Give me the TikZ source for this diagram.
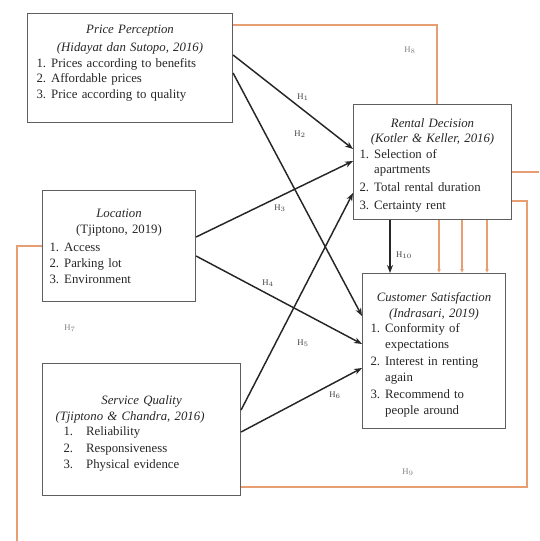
\documentclass[tikz,border=0pt]{standalone}
\usepackage{fontspec}
\setmainfont{Liberation Serif}
\usetikzlibrary{arrows.meta}
\definecolor{linegray}{RGB}{95,95,95}
\definecolor{pathorange}{RGB}{232,158,115}
\newlength\itmw
\setlength\itmw{11pt}
\newcommand{\itm}[2]{\par\noindent\hangindent=\itmw\hangafter=1\makebox[\itmw][l]{#1}#2\par}
\newcommand{\hyp}[1]{H$_{#1}$}

\begin{document}
\begin{tikzpicture}[x=0.75pt,y=-0.75pt]
	\tikzstyle{box}=[rectangle,draw=linegray,line width=0.8pt,anchor=north west,align=left,inner ysep=0pt,font=\fontsize{9.6}{11.6}\selectfont,text=black!85]
	\tikzstyle{hlabel}=[font=\fontsize{6.5}{8}\selectfont,text=black!75]
	\tikzstyle{effect}=[line width=1.1pt,black!85,-{Stealth[length=6pt,width=4.5pt]}]
	\tikzstyle{indirect}=[line width=0.9pt,pathorange]
	\tikzstyle{mediate}=[indirect,-{Latex[length=3pt,width=3pt]}]
	\useasboundingbox (0,0) rectangle (539,541);
	% variables
	\node (price) at (27,13) [box,inner xsep=6.75pt,text width=140.25pt,text height=15pt,text depth=66.75pt] {
		{\centering\textit{Price Perception}\par\vspace{2pt}\textit{(Hidayat dan Sutopo, 2016)}\par}
		\itm{1.}{Prices according to benefits}
		\itm{2.}{Affordable prices}
		\itm{3.}{Price according to quality}
	};
	\node (rental) at (353,104) [box,inner xsep=4.5pt,text width=109.5pt,text height=17pt,text depth=69.25pt] {
		{\centering\textit{Rental Decision}\par\textit{(Kotler \& Keller, 2016)}\par}
		\itm{1.}{Selection of\newline apartments}\vspace{2pt}
		\itm{2.}{Total rental duration}\vspace{1.8pt}
		\itm{3.}{Certainty rent}
	};
	\node (location) at (42,190) [box,inner xsep=5.25pt,text width=104.25pt,text height=20.25pt,text depth=63pt] {
		{\centering\textit{Location}\par(Tjiptono, 2019)\par}\vspace{1.9pt}
		\itm{1.}{Access}\vspace{0.4pt}
		\itm{2.}{Parking lot}\vspace{0.4pt}
		\itm{3.}{Environment}
	};
	\node (cs) at (362,273) [box,inner xsep=6pt,text width=95.25pt,text height=21.25pt,text depth=95pt] {
		{\centering\textit{Customer Satisfaction}\par\textit{(Indrasari, 2019)}\par}
		\itm{1.}{Conformity of\newline expectations}\vspace{1.5pt}
		\itm{2.}{Interest in renting\newline again}\vspace{1.5pt}
		\itm{3.}{Recommend to\newline people around}
	};
	\node (service) at (42,363) [box,inner xsep=9.75pt,text width=129pt,text height=30.5pt,text depth=68.5pt] {
		{\centering\textit{Service Quality}\par}\vspace{0.5pt}
		\textit{(Tjiptono \& Chandra, 2016)}\par
		\setlength\itmw{17pt}\leftskip=6pt
		\itm{1.}{Reliability}\vspace{0.8pt}
		\itm{2.}{Responsiveness}\vspace{0.8pt}
		\itm{3.}{Physical evidence}
	};
	% direct effects
	\draw [effect] ([yshift=-31.5pt]price.north east)    -- ([yshift=-33.75pt]rental.north west);
	\draw [effect] ([yshift=-45pt]price.north east)      -- ([yshift=-32.25pt]cs.north west);
	\draw [effect] ([yshift=-35.25pt]location.north east) -- ([yshift=-42.75pt]rental.north west);
	\draw [effect] ([yshift=-49.5pt]location.north east)  -- ([yshift=-53.25pt]cs.north west);
	\draw [effect] ([yshift=-35.25pt]service.north east)  -- ([yshift=-66.75pt]rental.north west);
	\draw [effect] ([yshift=-51.75pt]service.north east)  -- ([yshift=-71.25pt]cs.north west);
	\draw [effect] ([xshift=27.75pt]rental.south west)    -- ([xshift=21pt]cs.north west);
	% mediated paths
	\coordinate (lbot) at (17,541);
	\coordinate (redge) at (539,172);
	\coordinate (rturn) at (527,201);
	\draw [indirect] ([yshift=-9pt]price.north east) -| ([xshift=63pt]rental.north west);
	\draw [indirect] ([yshift=-42pt]location.north west) -| (lbot);
	\draw [indirect] (redge) -- (rental.east |- redge);
	\draw [indirect] ([yshift=-93pt]service.north east) -| (rturn) -- (rental.east |- rturn);
	\draw [mediate] ([xshift=64.5pt]rental.south west)  -- ([xshift=57.75pt]cs.north west);
	\draw [mediate] ([xshift=81.75pt]rental.south west) -- ([xshift=75pt]cs.north west);
	\draw [mediate] ([xshift=100.5pt]rental.south west) -- ([xshift=93.75pt]cs.north west);
	% hypotheses
	\node (h1) at (303,97) [hlabel] {\hyp{1}};
	\node (h2) at (300,134) [hlabel] {\hyp{2}};
	\node (h3) at (280,208) [hlabel] {\hyp{3}};
	\node (h4) at (268,283) [hlabel] {\hyp{4}};
	\node (h5) at (303,343) [hlabel] {\hyp{5}};
	\node (h6) at (335,395) [hlabel] {\hyp{6}};
	\node (h7) at (70,328) [hlabel,text=black!50] {\hyp{7}};
	\node (h8) at (410,50) [hlabel,text=black!50] {\hyp{8}};
	\node (h9) at (408,472) [hlabel,text=black!50] {\hyp{9}};
	\node (h10) at (404,255) [hlabel] {\hyp{10}};
\end{tikzpicture}
\end{document}
